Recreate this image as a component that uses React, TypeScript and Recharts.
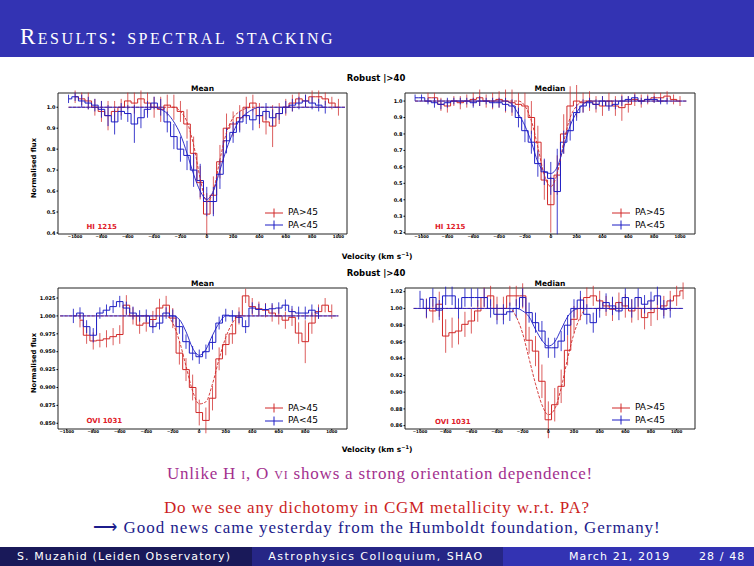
import React from 'react';
import { ComposedChart, Line, XAxis, YAxis, ErrorBar, ReferenceArea } from 'recharts';

type N = number | null;

// velocity bins (km/s)
const VEL: number[] = [
  -1050, -1000, -950, -900, -850, -800, -750, -700, -650, -600,
  -550, -500, -450, -400, -350, -300, -250, -200, -150, -100,
  -50, 0, 50, 100, 150, 200, 250, 300, 350, 400,
  450, 500, 550, 600, 650, 700, 750, 800, 850, 900,
  950, 1000, 1050,
];

const X_TICKS = [-1000, -800, -600, -400, -200, 0, 200, 400, 600, 800, 1000];
const SERIES_LABELS = ['PA>45', 'PA<45'];

// ---------- H I 1215, Mean ----------
const HI_MEAN_RED: N[] = [
  null, 1.05, 1.04, 1.03, 1.0, 0.98, 0.96, 0.98, 1.0, 1.03,
  1.02, 1.04, 1.02, 1.0, 0.99, 1.01, 1.0, 0.98, 0.92, 0.78,
  0.64, 0.49, 0.58, 0.74, 0.9, 0.92, 0.95, 1.0, 1.02, 0.96,
  0.93, 0.91, 0.97, 1.0, 1.02, 1.04, 1.03, 1.05, 1.05, 1.04,
  1.02, 1.0, null,
];
const HI_MEAN_RED_ERR: N[] = [
  null, 0.03, 0.03, 0.04, 0.04, 0.05, 0.07, 0.05, 0.04, 0.04,
  0.05, 0.04, 0.05, 0.05, 0.06, 0.05, 0.06, 0.05, 0.07, 0.08,
  0.08, 0.1, 0.09, 0.08, 0.07, 0.06, 0.06, 0.05, 0.04, 0.06,
  0.06, 0.1, 0.05, 0.04, 0.04, 0.03, 0.03, 0.03, 0.03, 0.03,
  0.03, 0.04, null,
];
const HI_MEAN_BLUE: N[] = [
  1.04, 1.05, 1.03, 1.02, 1.01, 0.99, 0.96, 0.93, 0.98, 0.97,
  0.92, 0.95, 0.99, 1.02, 1.0, 0.93, 0.86, 0.8, 0.77, 0.7,
  0.65, 0.55, 0.55, 0.68, 0.84, 0.88, 0.93, 0.96, 0.94, 0.96,
  0.98, 0.95, 0.97, 1.0, 1.01, 1.02, 1.03, 1.02, 1.01, 1.0,
  null, null, null,
];
const HI_MEAN_BLUE_ERR: N[] = [
  0.02, 0.02, 0.03, 0.03, 0.03, 0.04, 0.05, 0.06, 0.04, 0.04,
  0.09, 0.05, 0.04, 0.03, 0.04, 0.05, 0.06, 0.06, 0.07, 0.08,
  0.08, 0.07, 0.07, 0.07, 0.06, 0.05, 0.05, 0.04, 0.05, 0.04,
  0.04, 0.04, 0.03, 0.03, 0.03, 0.03, 0.03, 0.03, 0.03, 0.03,
  null, null, null,
];
const HI_MEAN_FIT_RED: N[] = [
  1, 1, 1, 1, 1, 1, 1, 1, 1, 1,
  1, 1, 1, 1, 1, 1, 1, 0.98, 0.93, 0.82,
  0.66, 0.55, 0.6, 0.75, 0.88, 0.95, 0.98, 0.995, 1, 1,
  1, 1, 1, 1, 1, 1, 1, 1, 1, 1,
  1, 1, 1,
];
const HI_MEAN_FIT_BLUE: N[] = [
  1, 1, 1, 1, 1, 1, 1, 1, 1, 1,
  1, 1, 1, 1, 0.99, 0.97, 0.93, 0.87, 0.78, 0.68,
  0.6, 0.56, 0.6, 0.7, 0.8, 0.88, 0.94, 0.97, 0.99, 1,
  1, 1, 1, 1, 1, 1, 1, 1, 1, 1,
  1, 1, 1,
];

// ---------- H I 1215, Median ----------
const HI_MED_RED: N[] = [
  null, null, 1.02, 1.02, 0.98, 0.97, 1.0, 0.99, 1.0, 1.01,
  1.02, 1.0, 1.0, 1.01, 1.0, 0.99, 0.98, 0.97, 0.9, 0.75,
  0.52, 0.37, 0.55, 0.8, 0.97, 1.0, 0.99, 1.0, 0.98, 0.97,
  1.0, 0.97, 0.96, 0.98, 1.01, 1.0, 1.01, 1.02, 1.02, 1.03,
  1.01, 1.0, null,
];
const HI_MED_RED_ERR: N[] = [
  null, null, 0.03, 0.03, 0.04, 0.04, 0.03, 0.04, 0.04, 0.04,
  0.05, 0.04, 0.05, 0.05, 0.07, 0.08, 0.07, 0.08, 0.1, 0.1,
  0.12, 0.17, 0.12, 0.12, 0.12, 0.1, 0.06, 0.06, 0.05, 0.06,
  0.05, 0.06, 0.08, 0.05, 0.04, 0.04, 0.03, 0.03, 0.03, 0.03,
  0.03, 0.03, null,
];
const HI_MED_BLUE: N[] = [
  1.02, 1.02, 1.0, 0.99, 0.98, 0.99, 1.0, 1.0, 1.0, 0.99,
  1.0, 1.0, 0.99, 0.99, 0.98, 0.97, 0.9, 0.82, 0.75, 0.62,
  0.57, 0.53, 0.45, 0.75, 0.82, 0.93, 0.97, 0.99, 0.98, 1.0,
  0.97, 0.98, 1.0, 1.01, 1.02, 1.0, 1.01, 1.01, 1.0, 1.0,
  null, null, null,
];
const HI_MED_BLUE_ERR: N[] = [
  0.02, 0.02, 0.02, 0.03, 0.03, 0.03, 0.02, 0.02, 0.02, 0.03,
  0.03, 0.02, 0.03, 0.03, 0.04, 0.04, 0.06, 0.07, 0.07, 0.08,
  0.08, 0.1, 0.26, 0.07, 0.06, 0.05, 0.04, 0.03, 0.03, 0.03,
  0.03, 0.03, 0.03, 0.02, 0.02, 0.02, 0.02, 0.02, 0.02, 0.02,
  null, null, null,
];
const HI_MED_FIT_RED: N[] = [
  1, 1, 1, 1, 1, 1, 1, 1, 1, 1,
  1, 1, 1, 1, 1, 1, 1, 0.97, 0.88, 0.72,
  0.55, 0.48, 0.56, 0.75, 0.9, 0.97, 1, 1, 1, 1,
  1, 1, 1, 1, 1, 1, 1, 1, 1, 1,
  1, 1, 1,
];
const HI_MED_FIT_BLUE: N[] = [
  1, 1, 1, 1, 1, 1, 1, 1, 1, 1,
  1, 1, 1, 1, 1, 0.98, 0.92, 0.85, 0.75, 0.63,
  0.57, 0.56, 0.6, 0.72, 0.85, 0.93, 0.98, 1, 1, 1,
  1, 1, 1, 1, 1, 1, 1, 1, 1, 1,
  1, 1, 1,
];

// ---------- O VI 1031, Mean ----------
const OVI_MEAN_RED: N[] = [
  null, null, null, 0.994, 0.973, 0.965, 0.966, 0.968, 0.971, 0.974,
  1.015, 1.0, 0.987, 0.99, 0.995, 1.011, 1.015, 0.997, 0.948, 0.925,
  0.9, 0.865, 0.854, 0.885, 0.94, 0.96, 0.975, 1.0, 1.028, 1.013,
  1.01, 1.008, 1.004, 1.0, 0.994, 0.998, 0.976, 0.964, 0.99, 1.006,
  1.015, 1.006, null,
];
const OVI_MEAN_RED_ERR: N[] = [
  null, null, null, 0.01, 0.012, 0.012, 0.01, 0.012, 0.012, 0.013,
  0.014, 0.012, 0.012, 0.012, 0.012, 0.013, 0.013, 0.014, 0.016, 0.016,
  0.018, 0.018, 0.018, 0.017, 0.016, 0.015, 0.014, 0.012, 0.01, 0.012,
  0.01, 0.01, 0.012, 0.012, 0.012, 0.012, 0.015, 0.03, 0.015, 0.01,
  0.01, 0.01, null,
];
const OVI_MEAN_BLUE: N[] = [
  null, null, 1.0, 1.004, 0.985, 0.973, 1.004, 1.008, 1.013, 1.02,
  1.011, 1.004, 1.0, 1.0, 0.985, 0.99, 1.004, 1.0, 0.985, 0.964,
  0.948, 0.943, 0.95, 0.963, 0.99, 1.001, 1.0, 0.998, 0.985, 1.011,
  1.009, 1.009, 1.01, 1.011, 1.015, 1.006, 1.004, 1.004, 1.008, 1.004,
  null, null, null,
];
const OVI_MEAN_BLUE_ERR: N[] = [
  null, null, 0.01, 0.008, 0.009, 0.01, 0.008, 0.008, 0.009, 0.008,
  0.009, 0.009, 0.008, 0.009, 0.009, 0.009, 0.008, 0.009, 0.01, 0.01,
  0.01, 0.01, 0.01, 0.01, 0.009, 0.009, 0.008, 0.008, 0.009, 0.008,
  0.008, 0.008, 0.008, 0.008, 0.008, 0.008, 0.009, 0.009, 0.008, 0.008,
  null, null, null,
];
const OVI_MEAN_FIT_RED: N[] = [
  1, 1, 1, 1, 1, 1, 1, 1, 1, 1,
  1, 1, 1, 1, 1, 1, 1, 0.99, 0.965, 0.93,
  0.895, 0.877, 0.88, 0.905, 0.94, 0.97, 0.99, 1, 1, 1,
  1, 1, 1, 1, 1, 1, 1, 1, 1, 1,
  1, 1, 1,
];
const OVI_MEAN_FIT_BLUE: N[] = [
  1, 1, 1, 1, 1, 1, 1, 1, 1, 1,
  1, 1, 1, 1, 1, 1, 1, 1, 0.995, 0.978,
  0.955, 0.945, 0.953, 0.973, 0.99, 1, 1, 1, 1, 1,
  1, 1, 1, 1, 1, 1, 1, 1, 1, 1,
  1, 1, 1,
];

// ---------- O VI 1031, Median ----------
const OVI_MED_RED: N[] = [
  null, null, 1.0, 0.997, 1.005, 0.967, 0.971, 0.973, 0.981, 0.985,
  0.997, 1.013, 1.015, 1.0, 1.0, 1.015, 1.015, 1.015, 0.962, 0.949,
  0.913, 0.867, 0.885, 0.907, 0.95, 0.987, 1.0, 1.013, 1.015, 1.009,
  1.003, 0.999, 1.007, 1.003, 0.997, 1.0, 0.989, 0.995, 1.0, 1.003,
  1.009, 1.015, 1.021,
];
const OVI_MED_RED_ERR: N[] = [
  null, null, 0.012, 0.014, 0.015, 0.02, 0.018, 0.016, 0.015, 0.015,
  0.013, 0.012, 0.012, 0.014, 0.014, 0.012, 0.012, 0.015, 0.016, 0.018,
  0.02, 0.022, 0.02, 0.02, 0.018, 0.016, 0.014, 0.012, 0.012, 0.012,
  0.012, 0.014, 0.012, 0.014, 0.014, 0.014, 0.014, 0.016, 0.014, 0.012,
  0.012, 0.012, 0.01,
];
const OVI_MED_BLUE: N[] = [
  null, 1.011, 1.0, 1.013, 0.998, 1.015, 1.015, 1.0, 1.013, 1.013,
  1.013, 1.013, 1.0, 0.993, 0.993, 0.996, 1.0, 1.013, 0.995, 0.983,
  0.973, 0.953, 0.953, 0.961, 0.98, 1.0, 1.01, 0.993, 0.983, 1.0,
  1.007, 1.003, 0.997, 1.013, 1.0, 1.013, 1.005, 1.009, 1.015, 0.999,
  1.0, null, null,
];
const OVI_MED_BLUE_ERR: N[] = [
  null, 0.01, 0.011, 0.011, 0.012, 0.011, 0.011, 0.012, 0.011, 0.011,
  0.011, 0.011, 0.011, 0.012, 0.012, 0.011, 0.011, 0.011, 0.012, 0.012,
  0.012, 0.012, 0.012, 0.012, 0.012, 0.011, 0.011, 0.012, 0.012, 0.011,
  0.011, 0.011, 0.011, 0.011, 0.011, 0.011, 0.011, 0.011, 0.011, 0.011,
  0.011, null, null,
];
const OVI_MED_FIT_RED: N[] = [
  1, 1, 1, 1, 1, 1, 1, 1, 1, 1,
  1, 1, 1, 1, 1, 1, 0.99, 0.97, 0.94, 0.91,
  0.885, 0.873, 0.88, 0.905, 0.94, 0.97, 0.99, 1, 1, 1,
  1, 1, 1, 1, 1, 1, 1, 1, 1, 1,
  1, 1, 1,
];
const OVI_MED_FIT_BLUE: N[] = [
  1, 1, 1, 1, 1, 1, 1, 1, 1, 1,
  1, 1, 1, 1, 1, 1, 1, 0.997, 0.99, 0.975,
  0.962, 0.955, 0.96, 0.975, 0.99, 0.998, 1, 1, 1, 1,
  1, 1, 1, 1, 1, 1, 1, 1, 1, 1,
  1, 1, 1,
];

const Y_TICKS_HI_MEAN = [0.4, 0.5, 0.6, 0.7, 0.8, 0.9, 1.0];
const Y_TICKS_HI_MED = [0.2, 0.3, 0.4, 0.5, 0.6, 0.7, 0.8, 0.9, 1.0];
const Y_TICKS_OVI_MEAN = [0.85, 0.875, 0.9, 0.925, 0.95, 0.975, 1.0, 1.025];
const Y_TICKS_OVI_MED = [0.86, 0.88, 0.9, 0.92, 0.94, 0.96, 0.98, 1.0, 1.02];

const RED = '#d02828';
const BLUE = '#1c1cc4';
const PLOT_FONT = '"DejaVu Sans", Verdana, sans-serif';
const SERIF = '"Liberation Serif", "Times New Roman", serif';

function steps(vals: N[], errs: N[]) {
  return VEL.map((v, i) => ({ v, y: vals[i], e: errs[i] })).filter((r) => r.y !== null);
}
function fitRows(vals: N[]) {
  return VEL.map((v, i) => ({ v, y: vals[i] })).filter((r) => r.y !== null);
}
const fmtX = (v: number) => (v < 0 ? `\u2212${Math.abs(v)}` : `${v}`);

type Box = { x0: number; y0: number; x1: number; y1: number };

function Panel(props: {
  box: Box;
  xDomain: [number, number];
  yDomain: [number, number];
  yTicks: number[];
  yDigits: number;
  red: N[]; redErr: N[]; blue: N[]; blueErr: N[]; fitR: N[]; fitB: N[];
}) {
  const { box, xDomain, yDomain, yTicks, yDigits } = props;
  const width = box.x1 - box.x0 + 48;
  const height = box.y1 - box.y0 + 20;
  const tickStyle = { fontSize: 5, fontWeight: 700, fill: '#000', fontFamily: PLOT_FONT };
  return (
    <div style={{ position: 'absolute', left: box.x0 - 40, top: box.y0 - 8, width, height }}>
      <ComposedChart width={width} height={height} margin={{ top: 8, right: 8, bottom: 2, left: 0 }}>
        <XAxis
          type="number" dataKey="v" domain={xDomain} allowDataOverflow ticks={X_TICKS}
          tickFormatter={fmtX} interval={0} height={10} tickSize={1.5} tickMargin={0}
          axisLine={false} stroke="#000" tick={{ ...tickStyle, fontSize: 4 }}
        />
        <YAxis
          type="number" domain={yDomain} allowDataOverflow ticks={yTicks} interval={0}
          tickFormatter={(t: number) => t.toFixed(yDigits)} width={40} tickSize={1.5} tickMargin={1}
          axisLine={false} stroke="#000" tick={tickStyle}
        />
        <ReferenceArea
          x1={xDomain[0]} x2={xDomain[1]} y1={yDomain[0]} y2={yDomain[1]}
          fill="none" stroke="#222" strokeWidth={1} ifOverflow="visible"
        />
        <Line data={steps(props.red, props.redErr)} dataKey="y" type="step" stroke={RED}
          strokeWidth={1} dot={false} isAnimationActive={false}>
          <ErrorBar dataKey="e" width={0} stroke={RED} strokeOpacity={0.75} strokeWidth={1} direction="y" />
        </Line>
        <Line data={steps(props.blue, props.blueErr)} dataKey="y" type="step" stroke={BLUE}
          strokeWidth={1} dot={false} isAnimationActive={false}>
          <ErrorBar dataKey="e" width={0} stroke={BLUE} strokeOpacity={0.85} strokeWidth={1} direction="y" />
        </Line>
        <Line data={fitRows(props.fitR)} dataKey="y" type="monotone" stroke={RED}
          strokeWidth={0.9} strokeDasharray="3 1.5" dot={false} isAnimationActive={false} />
        <Line data={fitRows(props.fitB)} dataKey="y" type="monotone" stroke={BLUE}
          strokeWidth={0.9} dot={false} isAnimationActive={false} />
      </ComposedChart>
    </div>
  );
}

function Txt(props: { x: number; y: number; children: React.ReactNode; style?: React.CSSProperties; anchor?: 'center' | 'left' }) {
  const tx = props.anchor === 'left' ? '0' : '-50%';
  return (
    <div style={{
      position: 'absolute', left: props.x, top: props.y, transform: `translate(${tx}, -50%)`,
      whiteSpace: 'nowrap', lineHeight: 1, ...props.style,
    }}>{props.children}</div>
  );
}

function LegendBox({ left, top }: { left: number; top: number }) {
  const colors = [RED, BLUE];
  return (
    <div style={{ position: 'absolute', left, top, fontFamily: PLOT_FONT, fontSize: 9, color: '#000' }}>
      {SERIES_LABELS.map((lab, i) => (
        <div key={lab} style={{ display: 'flex', alignItems: 'center', height: 12.6 }}>
          <svg width={18} height={10} style={{ display: 'block' }}>
            <line x1={0} y1={5} x2={18} y2={5} stroke={colors[i]} strokeWidth={1} />
            <line x1={9} y1={0.5} x2={9} y2={9.5} stroke={colors[i]} strokeWidth={1} />
          </svg>
          <span style={{ marginLeft: 5, lineHeight: 1 }}>{lab}</span>
        </div>
      ))}
    </div>
  );
}

const plotLabel: React.CSSProperties = { fontFamily: PLOT_FONT, fontWeight: 700, color: '#000' };
const species: React.CSSProperties = { fontFamily: PLOT_FONT, fontWeight: 700, color: '#e0202a', fontSize: 7 };
const body: React.CSSProperties = { fontFamily: SERIF, fontSize: 17, letterSpacing: 0.8 };
const foot: React.CSSProperties = { fontFamily: PLOT_FONT, fontSize: 11, color: '#fff', letterSpacing: 1.1 };

export default function App() {
  return (
    <div style={{ position: 'absolute', left: 0, top: 0, width: 754, height: 566, background: '#fff', overflow: 'hidden' }}>
      {/* header */}
      <div style={{ position: 'absolute', left: 0, top: 0, width: 754, height: 57, background: '#3333B3' }} />
      <Txt x={20} y={36} anchor="left" style={{ fontFamily: SERIF, fontSize: 23, color: '#fff', fontVariant: 'small-caps', letterSpacing: 2.5 }}>
        Results: spectral stacking
      </Txt>

      {/* panels */}
      <Panel box={{ x0: 58, y0: 93, x1: 347, y1: 234 }} xDomain={[-1130, 1065]} yDomain={[0.395, 1.068]}
        yTicks={Y_TICKS_HI_MEAN} yDigits={1}
        red={HI_MEAN_RED} redErr={HI_MEAN_RED_ERR} blue={HI_MEAN_BLUE} blueErr={HI_MEAN_BLUE_ERR}
        fitR={HI_MEAN_FIT_RED} fitB={HI_MEAN_FIT_BLUE} />
      <Panel box={{ x0: 405, y0: 93, x1: 695, y1: 234 }} xDomain={[-1128, 1116]} yDomain={[0.192, 1.049]}
        yTicks={Y_TICKS_HI_MED} yDigits={1}
        red={HI_MED_RED} redErr={HI_MED_RED_ERR} blue={HI_MED_BLUE} blueErr={HI_MED_BLUE_ERR}
        fitR={HI_MED_FIT_RED} fitB={HI_MED_FIT_BLUE} />
      <Panel box={{ x0: 58, y0: 288, x1: 347, y1: 429 }} xDomain={[-1066, 1115]} yDomain={[0.842, 1.039]}
        yTicks={Y_TICKS_OVI_MEAN} yDigits={3}
        red={OVI_MEAN_RED} redErr={OVI_MEAN_RED_ERR} blue={OVI_MEAN_BLUE} blueErr={OVI_MEAN_BLUE_ERR}
        fitR={OVI_MEAN_FIT_RED} fitB={OVI_MEAN_FIT_BLUE} />
      <Panel box={{ x0: 405, y0: 288, x1: 695, y1: 429 }} xDomain={[-1117, 1143]} yDomain={[0.856, 1.0244]}
        yTicks={Y_TICKS_OVI_MED} yDigits={2}
        red={OVI_MED_RED} redErr={OVI_MED_RED_ERR} blue={OVI_MED_BLUE} blueErr={OVI_MED_BLUE_ERR}
        fitR={OVI_MED_FIT_RED} fitB={OVI_MED_FIT_BLUE} />

      {/* panel titles and labels */}
      <Txt x={376} y={77.5} style={{ ...plotLabel, fontSize: 8.5 }}>Robust |&gt;40</Txt>
      <Txt x={376} y={272.5} style={{ ...plotLabel, fontSize: 8.5 }}>Robust |&gt;40</Txt>
      <Txt x={202.5} y={89} style={{ ...plotLabel, fontSize: 7.5 }}>Mean</Txt>
      <Txt x={550} y={89} style={{ ...plotLabel, fontSize: 7.5 }}>Median</Txt>
      <Txt x={202.5} y={284} style={{ ...plotLabel, fontSize: 7.5 }}>Mean</Txt>
      <Txt x={550} y={284} style={{ ...plotLabel, fontSize: 7.5 }}>Median</Txt>
      <Txt x={377} y={256} style={{ ...plotLabel, fontSize: 7.5 }}>Velocity (km s<sup style={{ fontSize: 5 }}>−1</sup>)</Txt>
      <Txt x={377} y={449} style={{ ...plotLabel, fontSize: 7.5 }}>Velocity (km s<sup style={{ fontSize: 5 }}>−1</sup>)</Txt>
      <Txt x={33.5} y={168} style={{ ...plotLabel, fontSize: 6.8, transform: 'translate(-50%, -50%) rotate(-90deg)' }}>Normalised flux</Txt>
      <Txt x={33.5} y={363} style={{ ...plotLabel, fontSize: 6.8, transform: 'translate(-50%, -50%) rotate(-90deg)' }}>Normalised flux</Txt>

      <Txt x={86.5} y={227} anchor="left" style={species}>HI 1215</Txt>
      <Txt x={435} y={227} anchor="left" style={species}>HI 1215</Txt>
      <Txt x={86.5} y={421} anchor="left" style={species}>OVI 1031</Txt>
      <Txt x={435} y={421.5} anchor="left" style={species}>OVI 1031</Txt>

      <LegendBox left={265} top={206.4} />
      <LegendBox left={612} top={206.4} />
      <LegendBox left={265} top={402} />
      <LegendBox left={612} top={401.5} />

      {/* body text */}
      <Txt x={380} y={473} style={{ ...body, color: '#a3308e' }}>
        Unlike H <span style={{ fontVariant: 'small-caps' }}>i</span>, O <span style={{ fontVariant: 'small-caps' }}>vi</span> shows a strong orientation dependence!
      </Txt>
      <Txt x={377} y={507} style={{ ...body, color: '#cc1f1f' }}>
        Do we see any dichotomy in CGM metallicity w.r.t. PA?
      </Txt>
      <Txt x={377} y={526.5} style={{ ...body, color: '#1c1c8c', letterSpacing: 0.95 }}>
        ⟶ Good news came yesterday from the Humboldt foundation, Germany!
      </Txt>

      {/* footer */}
      <div style={{ position: 'absolute', left: 0, top: 547, width: 252, height: 19, background: '#191959' }} />
      <div style={{ position: 'absolute', left: 252, top: 547, width: 251, height: 19, background: '#262686' }} />
      <div style={{ position: 'absolute', left: 503, top: 547, width: 251, height: 19, background: '#3333B3' }} />
      <Txt x={124} y={556} style={foot}>S. Muzahid (Leiden Observatory)</Txt>
      <Txt x={376} y={556} style={{ ...foot, letterSpacing: 1.45 }}>Astrophysics Colloquium, SHAO</Txt>
      <Txt x={569} y={556} anchor="left" style={foot}>March 21, 2019</Txt>
      <Txt x={699} y={556} anchor="left" style={foot}>28 / 48</Txt>
    </div>
  );
}
